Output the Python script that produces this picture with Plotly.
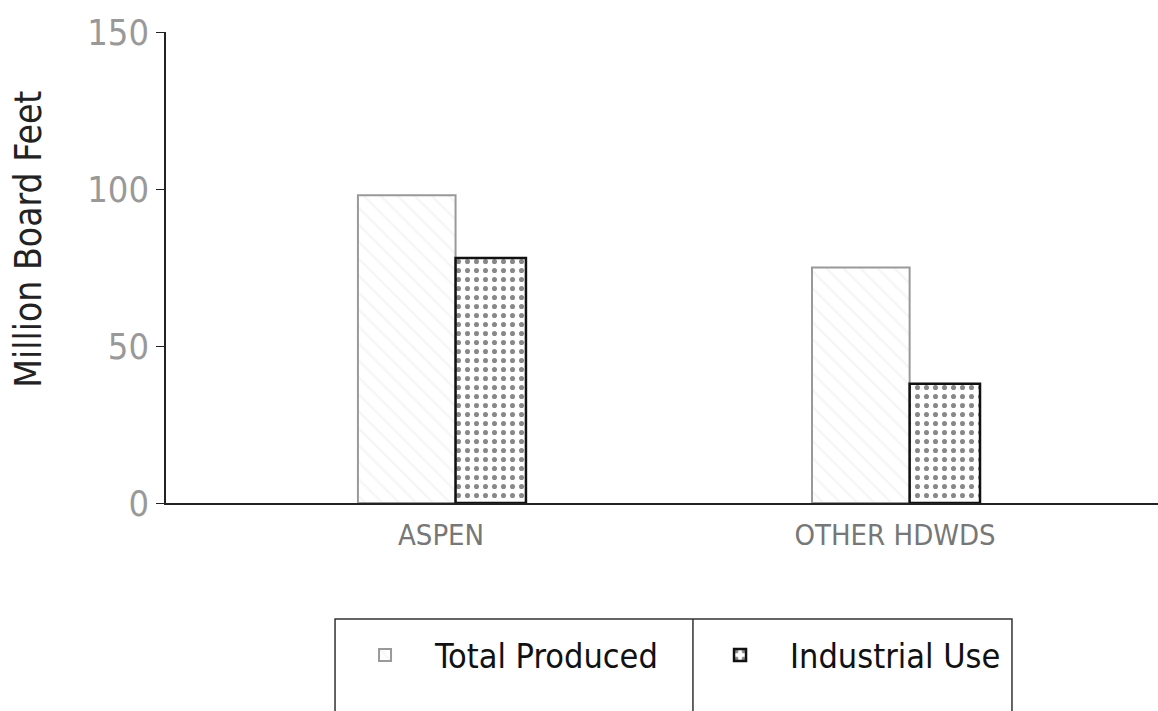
import plotly.graph_objects as go

categories = ["ASPEN", "OTHER HDWDS"]
total_produced = [98, 75]
industrial_use = [78, 38]
y_ticks = [0, 50, 100, 150]

FONT = "DejaVu Sans Condensed, Roboto Condensed, Liberation Sans Narrow, sans-serif"

fig = go.Figure()
fig.add_trace(go.Bar(
    x=categories, y=total_produced, name="Total Produced",
    offset=-0.183, width=0.215,
    marker=dict(color="white",
                line=dict(color="#999999", width=2),
                pattern=dict(shape="\\", fgcolor="#ececec", bgcolor="white",
                             size=12, solidity=0.2)),
))
fig.add_trace(go.Bar(
    x=categories, y=industrial_use, name="Industrial Use",
    offset=0.032, width=0.155,
    marker=dict(color="white",
                line=dict(color="#111111", width=2.5),
                pattern=dict(shape=".", fgcolor="#111111", bgcolor="white",
                             size=9, solidity=0.25)),
))

fig.update_layout(
    width=1158, height=711,
    margin=dict(l=166, r=0, t=32, b=208),
    plot_bgcolor="white", paper_bgcolor="white",
    barmode="overlay",
    font=dict(family=FONT, color="#222"),
    showlegend=True,
    legend=dict(
        orientation="h", x=0.1704, xanchor="left", y=-0.262, yanchor="top",
        borderwidth=0, bgcolor="rgba(0,0,0,0)",
        font=dict(family=FONT, size=34, color="#111"),
        itemwidth=90, entrywidth=250, traceorder="normal",
    ),
    xaxis=dict(
        type="category", range=[-0.6057, 1.579],
        showline=True, linecolor="#222", linewidth=2,
        ticks="", showgrid=False, zeroline=False,
        ticklabelstandoff=5,
        tickfont=dict(family=FONT, size=29, color="#777"),
    ),
    yaxis=dict(
        range=[0, 150], tickvals=y_ticks,
        showline=True, linecolor="#222", linewidth=1.5,
        ticks="outside", ticklen=8, tickcolor="#222",
        showgrid=False, zeroline=False,
        tickfont=dict(family=FONT, size=36, color="#999"),
    ),
    annotations=[dict(
        text="Million Board Feet", textangle=-90,
        xref="paper", yref="paper", x=-0.138, y=0.559,
        xanchor="center", yanchor="middle", showarrow=False,
        font=dict(family=FONT, size=37, color="#222"),
    )],
)

# legend frame with divider (frame continues past the bottom edge as in the original)
fig.add_shape(type="rect", xref="paper", yref="paper",
              x0=0.1704, x1=0.8528, y0=-0.2463, y1=-0.52,
              line=dict(color="#333", width=1.5), layer="below")
fig.add_shape(type="line", xref="paper", yref="paper",
              x0=0.5312, x1=0.5312, y0=-0.2463, y1=-0.52,
              line=dict(color="#333", width=1.5))

fig.write_html("out.html", config={"displayModeBar": False},
               post_script="document.body.style.margin='0';")
